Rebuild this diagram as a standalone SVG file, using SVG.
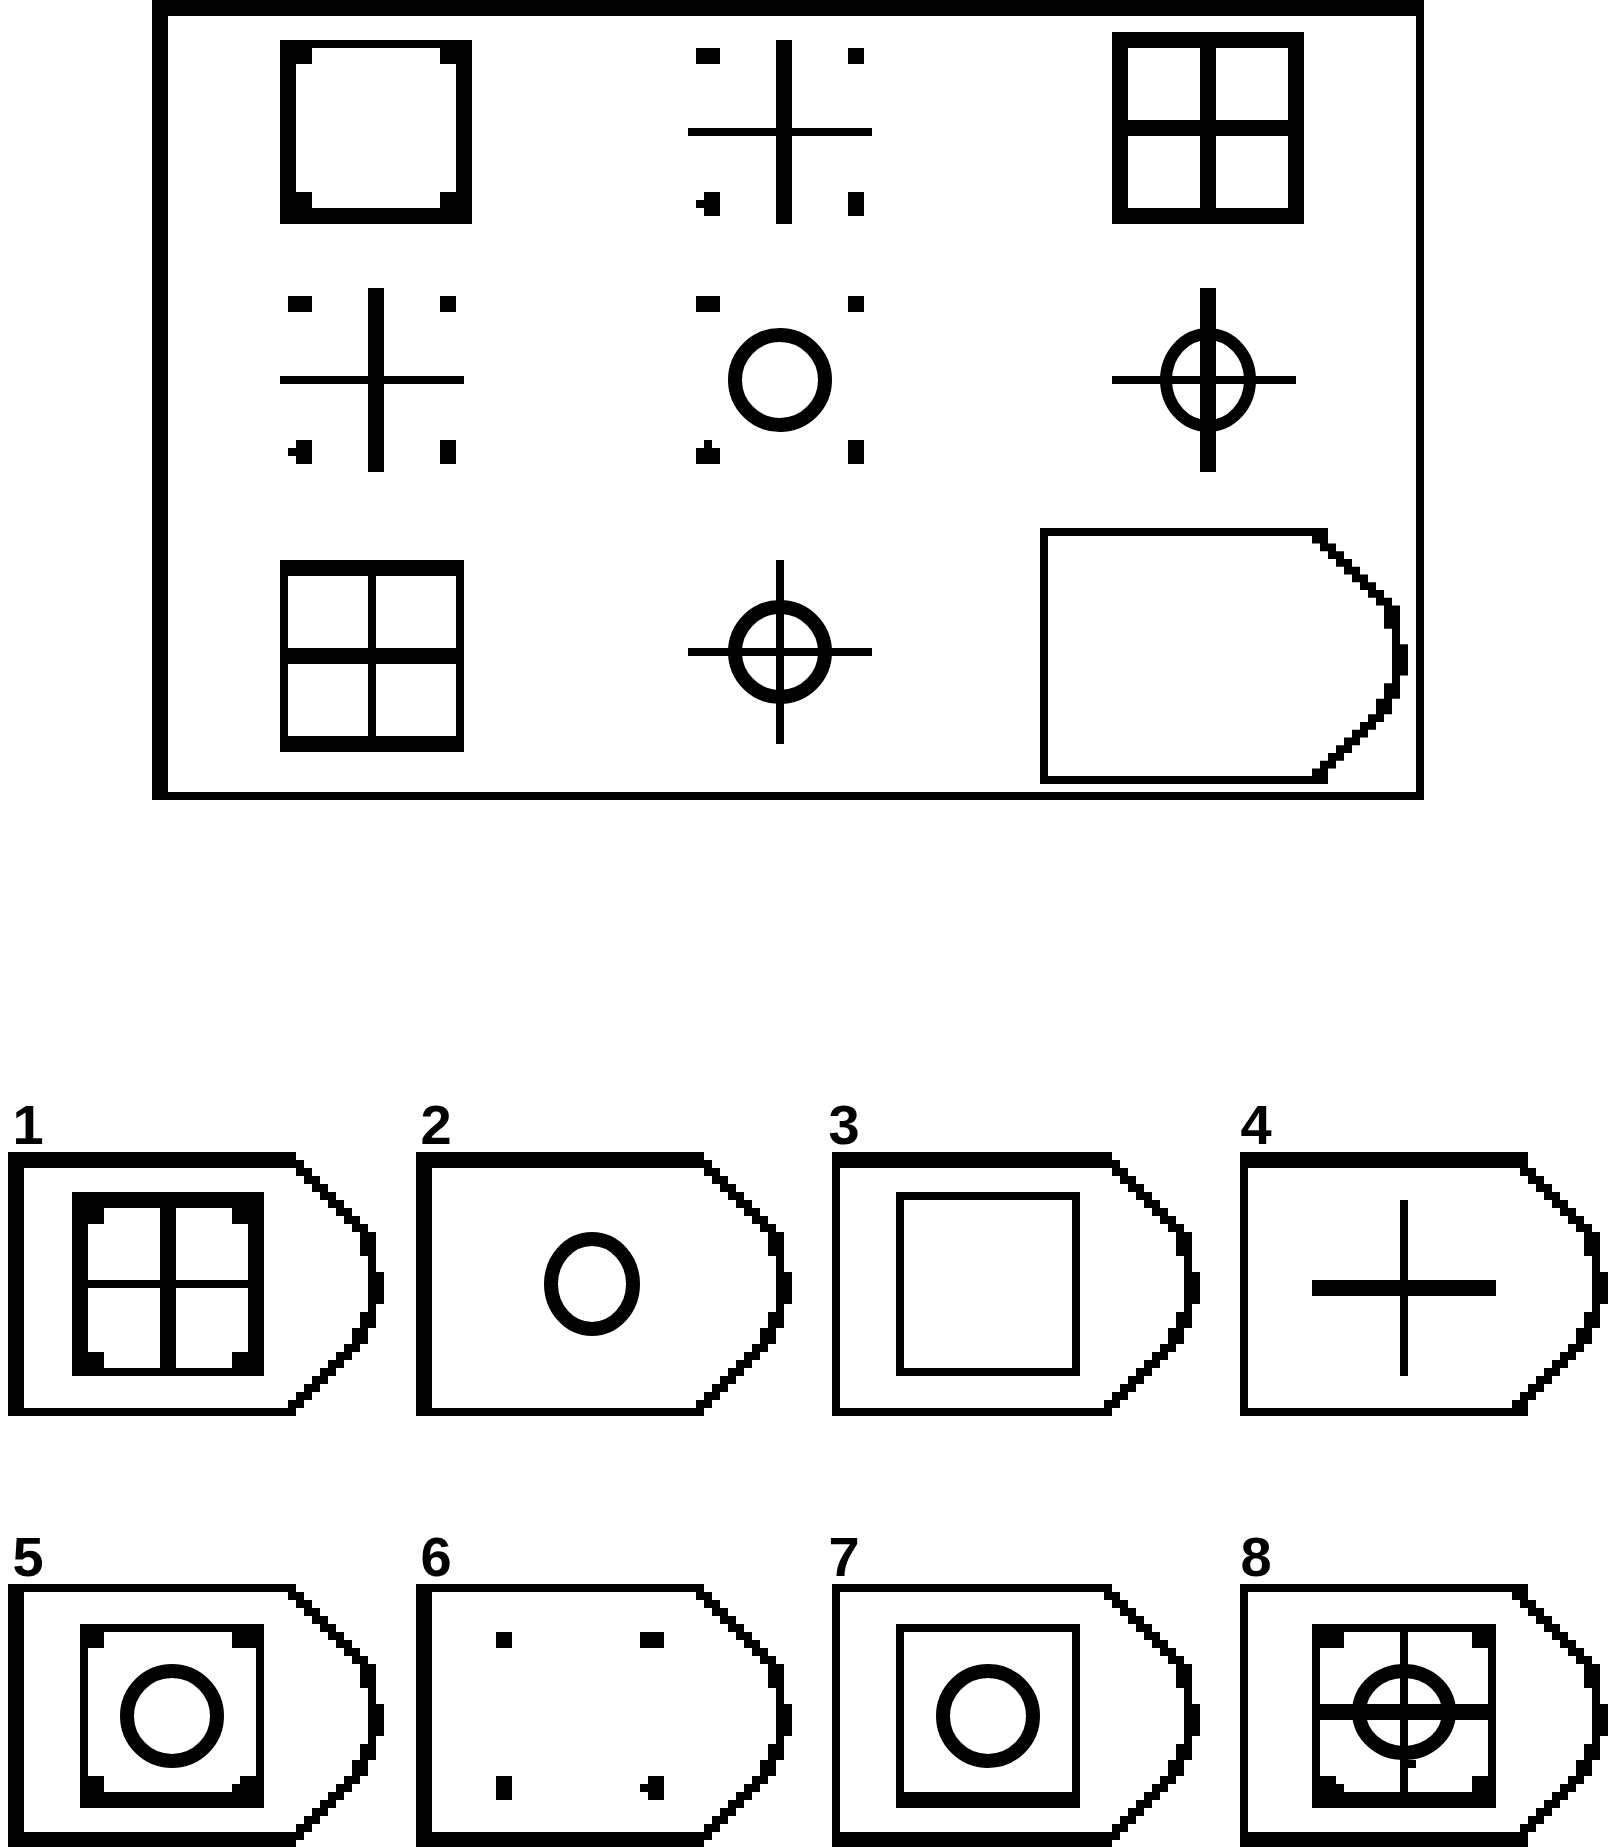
<svg xmlns="http://www.w3.org/2000/svg" xmlns:xlink="http://www.w3.org/1999/xlink" width="1615" height="1847" viewBox="0 0 1615 1847">
<style>
.k{fill:#000}
.ring{fill:none;stroke:#000;stroke-width:14}
.lbl{font-family:"Liberation Sans",Arial,sans-serif;font-weight:bold;font-size:56px;fill:#000;text-anchor:middle}
</style>
<defs>
<path id="stair" class="k" d="M-88,0 v8h8v8h8v8h8v8h8v8h8v8h8v8h8v8h8v8h8v8h8 v40h8v32h-8v24h-8v16h-8 v8h-8v8h-8v8h-8v8h-8v8h-8v8h-8v8h-8v8h-8 v8h-8v-16 h8v-8h8v-8h8v-8h8v-8h8v-8h8v-8h8v-8 h8v-16h8v-16h8v-56h-8v-24 h-8v-8h-8v-8h-8v-8h-8v-8h-8v-8h-8v-8h-8v-8h-8v-8h-8v-8 v-8Z"/>
</defs>
<rect width="1615" height="1847" fill="#fff"/>

<g id="matrix-frame">
<path class="k" fill-rule="evenodd" d="M152,0H1424V800H152Z M168,16V792H1416V16Z"/>
</g>

<g id="cell-1-1">
<path class="k" fill-rule="evenodd" d="M280,40H472V224H280Z M296,48V208H456V48Z"/>
<rect class="k" x="296" y="48" width="16" height="16"/>
<rect class="k" x="440" y="48" width="16" height="16"/>
<rect class="k" x="296" y="192" width="16" height="16"/>
<rect class="k" x="440" y="192" width="16" height="16"/>
</g>

<g id="cell-1-2">
<rect class="k" x="776" y="40" width="16" height="184"/>
<rect class="k" x="688" y="128" width="184" height="8"/>
<rect class="k" x="696" y="48" width="24" height="16"/>
<rect class="k" x="848" y="48" width="16" height="16"/>
<rect class="k" x="704" y="192" width="16" height="24"/>
<rect class="k" x="696" y="200" width="8" height="8"/>
<rect class="k" x="848" y="192" width="16" height="24"/>
</g>

<g id="cell-1-3">
<path class="k" fill-rule="evenodd" d="M1112,32H1304V224H1112Z M1128,48V120H1200V48Z M1216,48V120H1288V48Z M1128,136V208H1200V136Z M1216,136V208H1288V136Z"/>
</g>

<g id="cell-2-1">
<rect class="k" x="368" y="288" width="16" height="184"/>
<rect class="k" x="280" y="376" width="184" height="8"/>
<rect class="k" x="288" y="296" width="24" height="16"/>
<rect class="k" x="440" y="296" width="16" height="16"/>
<rect class="k" x="296" y="440" width="16" height="24"/>
<rect class="k" x="288" y="448" width="8" height="8"/>
<rect class="k" x="440" y="440" width="16" height="24"/>
</g>

<g id="cell-2-2">
<rect class="k" x="696" y="296" width="24" height="16"/>
<rect class="k" x="848" y="296" width="16" height="16"/>
<rect class="k" x="696" y="448" width="24" height="16"/>
<rect class="k" x="704" y="440" width="8" height="8"/>
<rect class="k" x="848" y="440" width="16" height="24"/>
<ellipse class="ring" cx="780" cy="380" rx="45" ry="45"/>
</g>

<g id="cell-2-3">
<rect class="k" x="1200" y="288" width="16" height="184"/>
<rect class="k" x="1112" y="376" width="184" height="8"/>
<ellipse class="ring" cx="1208" cy="380" rx="42" ry="46" style="stroke-width:12"/>
</g>

<g id="cell-3-1">
<path class="k" fill-rule="evenodd" d="M280,560H464V752H280Z M288,576V648H368V576Z M376,576V648H456V576Z M288,664V736H368V664Z M376,664V736H456V664Z"/>
</g>

<g id="cell-3-2">
<rect class="k" x="776" y="560" width="8" height="184"/>
<rect class="k" x="688" y="648" width="184" height="8"/>
<ellipse class="ring" cx="780" cy="652" rx="45" ry="45"/>
</g>

<g id="cell-3-3">
<rect class="k" x="1040" y="528" width="288" height="8"/>
<rect class="k" x="1040" y="528" width="8" height="256"/>
<rect class="k" x="1040" y="776" width="288" height="8"/>
<use xlink:href="#stair" href="#stair" transform="translate(1408,528) scale(1,0.9697)"/>
</g>

<g id="option-1">
<text class="lbl" x="28" y="1144">1</text>
<rect class="k" x="8" y="1152" width="288" height="16"/>
<rect class="k" x="8" y="1152" width="16" height="264"/>
<rect class="k" x="8" y="1408" width="288" height="8"/>
<use xlink:href="#stair" href="#stair" transform="translate(384,1152)"/>
<path class="k" fill-rule="evenodd" d="M72,1192H264V1376H72Z M88,1208V1280H160V1208Z M176,1208V1280H248V1208Z M88,1288V1368H160V1288Z M176,1288V1368H248V1288Z"/>
<rect class="k" x="88" y="1208" width="16" height="16"/>
<rect class="k" x="232" y="1208" width="16" height="16"/>
<rect class="k" x="88" y="1352" width="16" height="16"/>
<rect class="k" x="232" y="1352" width="16" height="16"/>
</g>

<g id="option-2">
<text class="lbl" x="436" y="1144">2</text>
<rect class="k" x="416" y="1152" width="288" height="16"/>
<rect class="k" x="416" y="1152" width="16" height="264"/>
<rect class="k" x="416" y="1408" width="288" height="8"/>
<use xlink:href="#stair" href="#stair" transform="translate(792,1152)"/>
<ellipse class="ring" cx="592" cy="1284" rx="41" ry="45"/>
</g>

<g id="option-3">
<text class="lbl" x="844" y="1144">3</text>
<rect class="k" x="832" y="1152" width="280" height="16"/>
<rect class="k" x="832" y="1152" width="8" height="264"/>
<rect class="k" x="832" y="1408" width="280" height="8"/>
<use xlink:href="#stair" href="#stair" transform="translate(1200,1152)"/>
<path class="k" fill-rule="evenodd" d="M896,1192H1080V1376H896Z M904,1200V1368H1072V1200Z"/>
</g>

<g id="option-4">
<text class="lbl" x="1256" y="1144">4</text>
<rect class="k" x="1240" y="1152" width="288" height="16"/>
<rect class="k" x="1240" y="1152" width="8" height="264"/>
<rect class="k" x="1240" y="1408" width="288" height="8"/>
<use xlink:href="#stair" href="#stair" transform="translate(1608,1152)"/>
<rect class="k" x="1312" y="1280" width="184" height="16"/>
<rect class="k" x="1400" y="1200" width="8" height="176"/>
</g>

<g id="option-5">
<text class="lbl" x="28" y="1576">5</text>
<rect class="k" x="8" y="1584" width="288" height="8"/>
<rect class="k" x="8" y="1584" width="16" height="264"/>
<rect class="k" x="8" y="1832" width="288" height="16"/>
<use xlink:href="#stair" href="#stair" transform="translate(384,1584)"/>
<path class="k" fill-rule="evenodd" d="M80,1624H264V1808H80Z M88,1632V1792H256V1632Z"/>
<rect class="k" x="88" y="1632" width="16" height="16"/>
<rect class="k" x="232" y="1632" width="24" height="16"/>
<rect class="k" x="88" y="1776" width="16" height="16"/>
<rect class="k" x="240" y="1776" width="16" height="8"/>
<rect class="k" x="232" y="1784" width="24" height="8"/>
<ellipse class="ring" cx="172" cy="1716" rx="45" ry="45"/>
</g>

<g id="option-6">
<text class="lbl" x="436" y="1576">6</text>
<rect class="k" x="416" y="1584" width="288" height="8"/>
<rect class="k" x="416" y="1584" width="16" height="264"/>
<rect class="k" x="416" y="1832" width="288" height="16"/>
<use xlink:href="#stair" href="#stair" transform="translate(792,1584)"/>
<rect class="k" x="496" y="1632" width="16" height="16"/>
<rect class="k" x="640" y="1632" width="24" height="16"/>
<rect class="k" x="496" y="1776" width="16" height="24"/>
<rect class="k" x="648" y="1776" width="16" height="24"/>
<rect class="k" x="640" y="1784" width="8" height="8"/>
</g>

<g id="option-7">
<text class="lbl" x="844" y="1576">7</text>
<rect class="k" x="832" y="1584" width="280" height="8"/>
<rect class="k" x="832" y="1584" width="8" height="264"/>
<rect class="k" x="832" y="1832" width="280" height="16"/>
<use xlink:href="#stair" href="#stair" transform="translate(1200,1584)"/>
<path class="k" fill-rule="evenodd" d="M896,1624H1080V1808H896Z M904,1632V1792H1072V1632Z"/>
<ellipse class="ring" cx="988" cy="1716" rx="45" ry="45"/>
</g>

<g id="option-8">
<text class="lbl" x="1256" y="1576">8</text>
<rect class="k" x="1240" y="1584" width="288" height="8"/>
<rect class="k" x="1240" y="1584" width="8" height="264"/>
<rect class="k" x="1240" y="1832" width="288" height="16"/>
<use xlink:href="#stair" href="#stair" transform="translate(1608,1584)"/>
<path class="k" fill-rule="evenodd" d="M1312,1624H1496V1808H1312Z M1320,1632V1704H1400V1632Z M1408,1632V1704H1488V1632Z M1320,1720V1792H1400V1720Z M1408,1720V1792H1488V1720Z"/>
<rect class="k" x="1320" y="1632" width="24" height="16"/>
<rect class="k" x="1472" y="1632" width="16" height="16"/>
<rect class="k" x="1320" y="1776" width="16" height="8"/>
<rect class="k" x="1320" y="1784" width="24" height="8"/>
<rect class="k" x="1472" y="1776" width="16" height="16"/>
<ellipse class="ring" cx="1404" cy="1712" rx="45" ry="41"/>
<rect class="k" x="1400" y="1760" width="16" height="8"/>
</g>
</svg>
